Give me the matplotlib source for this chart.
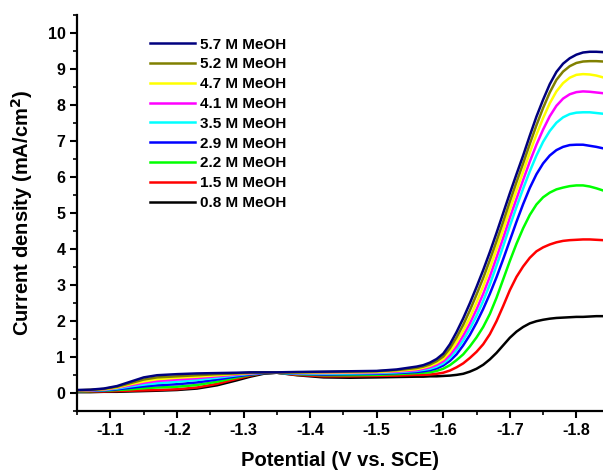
import matplotlib
matplotlib.use("Agg")
import matplotlib.pyplot as plt
from matplotlib.ticker import MultipleLocator

plt.rcParams["font.family"] = ["Liberation Sans", "DejaVu Sans"]
plt.rcParams["font.weight"] = "bold"

# potential (V vs. SCE)
POTENTIAL = [-1.05, -1.07, -1.09, -1.11, -1.13, -1.15, -1.17, -1.20, -1.23, -1.26,
             -1.29, -1.31, -1.33, -1.35, -1.38, -1.42, -1.46, -1.50, -1.53, -1.56,
             -1.57, -1.58, -1.59, -1.60, -1.61, -1.62, -1.63, -1.64, -1.65, -1.66,
             -1.67, -1.68, -1.69, -1.70, -1.71, -1.72, -1.73, -1.74, -1.75, -1.76,
             -1.77, -1.78, -1.79, -1.80, -1.81, -1.82, -1.83, -1.84]

LABELS = ["5.7 M MeOH", "5.2 M MeOH", "4.7 M MeOH", "4.1 M MeOH", "3.5 M MeOH",
          "2.9 M MeOH", "2.2 M MeOH", "1.5 M MeOH", "0.8 M MeOH"]
COLORS = ["#00007f", "#808000", "#ffff00", "#ff00ff", "#00ffff",
          "#0000ff", "#00ff00", "#ff0000", "#000000"]

# current density (mA/cm2)
J_57 = [0.09, 0.10, 0.13, 0.20, 0.32, 0.44, 0.50, 0.53, 0.55, 0.56,
        0.57, 0.58, 0.58, 0.58, 0.59, 0.60, 0.61, 0.62, 0.66, 0.74,
        0.78, 0.85, 0.95, 1.10, 1.36, 1.70, 2.08, 2.50, 2.95, 3.42,
        3.92, 4.45, 5.00, 5.55, 6.08, 6.60, 7.15, 7.68, 8.15, 8.58,
        8.92, 9.15, 9.30, 9.40, 9.46, 9.48, 9.48, 9.47]
J_52 = [0.08, 0.09, 0.12, 0.18, 0.28, 0.38, 0.44, 0.47, 0.50, 0.53,
        0.55, 0.57, 0.58, 0.58, 0.58, 0.59, 0.60, 0.61, 0.64, 0.70,
        0.74, 0.80, 0.89, 1.02, 1.25, 1.55, 1.90, 2.30, 2.74, 3.20,
        3.70, 4.22, 4.76, 5.32, 5.86, 6.38, 6.92, 7.44, 7.92, 8.35,
        8.70, 8.93, 9.08, 9.17, 9.21, 9.22, 9.22, 9.21]
J_47 = [0.08, 0.09, 0.11, 0.16, 0.25, 0.33, 0.39, 0.43, 0.46, 0.50,
        0.54, 0.56, 0.58, 0.58, 0.57, 0.58, 0.58, 0.59, 0.62, 0.67,
        0.71, 0.76, 0.84, 0.95, 1.15, 1.42, 1.74, 2.10, 2.52, 2.97,
        3.47, 4.00, 4.54, 5.10, 5.63, 6.15, 6.68, 7.18, 7.64, 8.05,
        8.38, 8.61, 8.76, 8.84, 8.86, 8.85, 8.82, 8.77]
J_41 = [0.07, 0.08, 0.10, 0.15, 0.22, 0.29, 0.34, 0.38, 0.42, 0.47,
        0.52, 0.55, 0.57, 0.58, 0.56, 0.56, 0.57, 0.58, 0.60, 0.64,
        0.68, 0.72, 0.79, 0.89, 1.06, 1.30, 1.60, 1.94, 2.33, 2.76,
        3.24, 3.77, 4.31, 4.87, 5.40, 5.92, 6.43, 6.90, 7.32, 7.69,
        7.98, 8.18, 8.30, 8.36, 8.38, 8.37, 8.35, 8.33]
J_35 = [0.07, 0.08, 0.09, 0.13, 0.19, 0.24, 0.28, 0.32, 0.37, 0.43,
        0.50, 0.54, 0.57, 0.57, 0.55, 0.54, 0.55, 0.56, 0.58, 0.62,
        0.65, 0.68, 0.74, 0.83, 0.98, 1.20, 1.47, 1.79, 2.15, 2.56,
        3.02, 3.54, 4.08, 4.64, 5.17, 5.68, 6.16, 6.60, 6.98, 7.28,
        7.51, 7.66, 7.75, 7.79, 7.80, 7.80, 7.78, 7.76]
J_29 = [0.06, 0.07, 0.08, 0.11, 0.15, 0.19, 0.22, 0.25, 0.30, 0.38,
        0.47, 0.52, 0.56, 0.57, 0.54, 0.52, 0.53, 0.54, 0.56, 0.59,
        0.61, 0.64, 0.69, 0.77, 0.90, 1.08, 1.33, 1.62, 1.96, 2.34,
        2.76, 3.22, 3.72, 4.24, 4.76, 5.25, 5.70, 6.08, 6.38, 6.60,
        6.75, 6.84, 6.89, 6.90, 6.90, 6.87, 6.84, 6.80]
J_22 = [0.05, 0.06, 0.07, 0.09, 0.11, 0.14, 0.16, 0.18, 0.23, 0.32,
        0.44, 0.51, 0.56, 0.57, 0.53, 0.50, 0.50, 0.51, 0.53, 0.56,
        0.57, 0.58, 0.62, 0.68, 0.78, 0.92, 1.08, 1.30, 1.55, 1.84,
        2.20, 2.65, 3.16, 3.67, 4.15, 4.58, 4.95, 5.24, 5.44, 5.57,
        5.66, 5.71, 5.75, 5.77, 5.77, 5.74, 5.69, 5.63]
J_15 = [0.04, 0.05, 0.05, 0.06, 0.07, 0.08, 0.09, 0.11, 0.16, 0.26,
        0.40, 0.49, 0.56, 0.57, 0.51, 0.47, 0.47, 0.48, 0.49, 0.51,
        0.51, 0.52, 0.54, 0.57, 0.63, 0.72, 0.83, 0.98, 1.15, 1.36,
        1.64, 2.00, 2.42, 2.86, 3.23, 3.52, 3.76, 3.94, 4.05, 4.13,
        4.19, 4.23, 4.25, 4.26, 4.27, 4.27, 4.26, 4.25]
J_08 = [0.03, 0.03, 0.04, 0.04, 0.05, 0.06, 0.07, 0.09, 0.13, 0.22,
        0.36, 0.46, 0.54, 0.57, 0.50, 0.44, 0.43, 0.44, 0.45, 0.46,
        0.46, 0.47, 0.47, 0.48, 0.49, 0.51, 0.54, 0.60, 0.68, 0.79,
        0.94, 1.12, 1.33, 1.54, 1.71, 1.84, 1.94, 2.00, 2.04, 2.07,
        2.09, 2.10, 2.11, 2.12, 2.12, 2.13, 2.14, 2.14]

SERIES = [J_57, J_52, J_47, J_41, J_35, J_29, J_22, J_15, J_08]

fig = plt.figure(figsize=(6.03, 4.70), dpi=100)
ax = fig.add_axes([0.128, 0.125, 0.872, 0.843])

# low concentrations first so the high ones sit on top
for y, c, lab in reversed(list(zip(SERIES, COLORS, LABELS))):
    ax.plot(POTENTIAL, y, color=c, lw=1.8, label=lab)

ax.set_xlim(-1.05, -1.84)
ax.set_ylim(-0.5, 10.5)
ax.xaxis.set_minor_locator(MultipleLocator(0.05))
ax.yaxis.set_minor_locator(MultipleLocator(0.5))
ax.set_xticks([-1.1, -1.2, -1.3, -1.4, -1.5, -1.6, -1.7, -1.8])
ax.set_xticklabels(["-1.1", "-1.2", "-1.3", "-1.4", "-1.5", "-1.6", "-1.7", "-1.8"])
ax.set_yticks(range(0, 11))

for s in ["top", "right"]:
    ax.spines[s].set_visible(False)
for s in ["left", "bottom"]:
    ax.spines[s].set_linewidth(1.6)
ax.tick_params(which="major", length=5, width=1.5, labelsize=11.5)
ax.tick_params(which="minor", length=3, width=1.2)
for lbl in ax.get_xticklabels() + ax.get_yticklabels():
    lbl.set_fontweight("bold")

ax.set_xlabel("Potential (V vs. SCE)", fontsize=14.5, fontweight="bold", labelpad=9)
ax.set_ylabel("Current density (mA/cm$\\mathbf{^2}$)", fontsize=14.5,
              fontweight="bold", labelpad=9)

handles, labels = ax.get_legend_handles_labels()
leg = ax.legend(handles[::-1], labels[::-1], loc="upper left",
                bbox_to_anchor=(0.113, 0.978), frameon=False,
                prop={"weight": "bold", "size": 11}, handlelength=2.95,
                handletextpad=0.3, labelspacing=0.38)

fig.savefig("out.png", dpi=100)
